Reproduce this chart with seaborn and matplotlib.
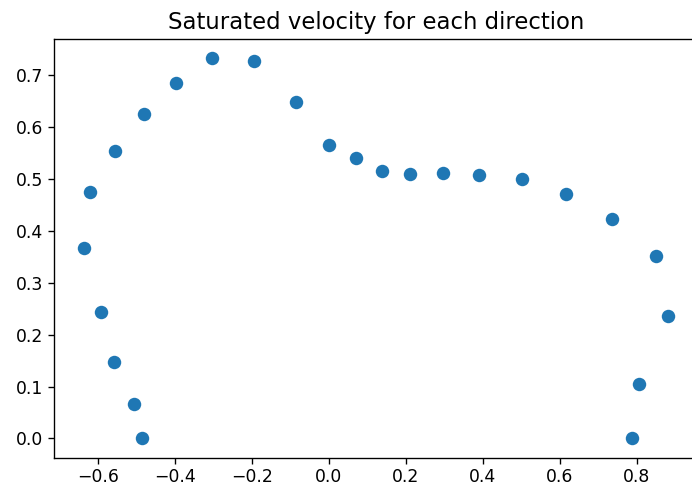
import numpy as np
import pandas as pd
import matplotlib
matplotlib.use("Agg")
import matplotlib.pyplot as plt
import seaborn as sns

# ── Data ──────────────────────────────────────────────────────────────────────
vx = [-0.637, -0.619, -0.554, -0.479, -0.396, -0.304, -0.195, -0.086,
      0.002, 0.072, 0.138, 0.212, 0.296, 0.390, 0.501, 0.616,
      0.735, 0.851, 0.881, 0.805, 0.789,
      -0.592, -0.557, -0.507, -0.485]
vy = [0.366, 0.474, 0.553, 0.624, 0.684, 0.732, 0.727, 0.649,
      0.566, 0.540, 0.516, 0.510, 0.512, 0.507, 0.500, 0.471,
      0.423, 0.351, 0.235, 0.105, 0.000,
      0.244, 0.148, 0.066, 0.000]
title = "Saturated velocity for each direction"

BLUE = "#1f77b4"
S = 1.22  # scale of the reference relative to 100 dpi

plt.rcParams.update({
    "font.family": "DejaVu Sans",
    "axes.linewidth": 0.8 * S,
    "xtick.major.size": 3.5 * S,
    "ytick.major.size": 3.5 * S,
    "xtick.major.width": 0.8 * S,
    "ytick.major.width": 0.8 * S,
    "xtick.labelsize": 10.2 * S,
    "ytick.labelsize": 10.2 * S,
})

df = pd.DataFrame({"x": vx, "y": vy})

fig = plt.figure(figsize=(6.92, 4.88), dpi=100)
ax = fig.add_axes([54.3 / 692, 30.5 / 488, (697 - 54.3) / 692, (457.6 - 39.5) / 488])
sns.scatterplot(data=df, x="x", y="y", ax=ax, color=BLUE, s=36 * S * S * 1.75,
                linewidth=0)
ax.set_xlabel("")
ax.set_ylabel("")
ax.set_xticks([-0.6, -0.4, -0.2, 0.0, 0.2, 0.4, 0.6, 0.8])
ax.set_yticks([0.0, 0.1, 0.2, 0.3, 0.4, 0.5, 0.6, 0.7])
ax.set_title(title, fontsize=16.4, pad=6 * S)

fig.savefig("out.png", dpi=100)
plt.close()
